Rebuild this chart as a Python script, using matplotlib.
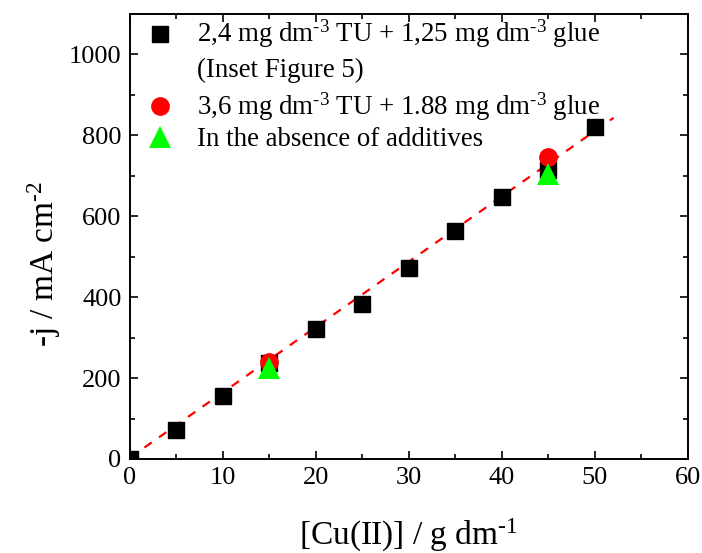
import matplotlib
matplotlib.use("Agg")
import matplotlib.pyplot as plt
from matplotlib.ticker import MultipleLocator

plt.rcParams["font.family"] = ["Liberation Serif", "DejaVu Serif"]
plt.rcParams["mathtext.fontset"] = "custom"
plt.rcParams["mathtext.rm"] = "Liberation Serif"
plt.rcParams["mathtext.default"] = "regular"

# Current density vs copper concentration
cu_sq = [0, 5, 10, 15, 20, 25, 30, 35, 40, 45, 50]
j_sq = [0, 72, 156, 237, 320, 384, 473, 563, 647, 714, 820]

cu_circ = [15, 45]
j_circ = [240, 745]

cu_tri = [15, 45]
j_tri = [225, 705]

# linear fit line endpoints
fit_x = [0, 52]
fit_y = [3, 843]

H = "\u2010"  # plain hyphen for the exponents
lbl_sq = f"2,4 mg dm$^{{{H}3}}$ TU + 1,25 mg dm$^{{{H}3}}$ glue"
lbl_sq2 = "(Inset Figure 5)"
lbl_circ = f"3,6 mg dm$^{{{H}3}}$ TU + 1.88 mg dm$^{{{H}3}}$ glue"
lbl_tri = "In the absence of additives"

sq_style = dict(marker="s", color="black", markersize=12, linestyle="none")
circ_style = dict(marker="o", color="red", markersize=13.5, markeredgewidth=0, linestyle="none")
tri_style = dict(marker="^", color="#00ff00", markersize=16, markeredgewidth=0, linestyle="none")

fig = plt.figure(figsize=(7.02, 5.53), dpi=100)
ax = fig.add_axes([0.185, 0.170, 0.795, 0.805])

ax.plot(fit_x, fit_y, color="red", linestyle=(0, (4, 4)), linewidth=1.6, zorder=2)
ax.plot(cu_sq, j_sq, zorder=3, **sq_style)
ax.plot(cu_circ, j_circ, zorder=3, **circ_style)
ax.plot(cu_tri, j_tri, zorder=4, **tri_style)

ax.set_xlim(0, 60)
ax.set_ylim(0, 1100)
ax.xaxis.set_major_locator(MultipleLocator(10))
ax.xaxis.set_minor_locator(MultipleLocator(5))
ax.yaxis.set_major_locator(MultipleLocator(200))
ax.yaxis.set_minor_locator(MultipleLocator(100))
ax.tick_params(which="both", direction="in", top=True, right=True, width=1.2)
ax.tick_params(which="major", length=6, labelsize=19, pad=6)
ax.tick_params(which="minor", length=3.5)
for s in ax.spines.values():
    s.set_linewidth(1.4)

ax.set_xlabel(f"[Cu(II)] / g dm$^{{{H}1}}$", fontsize=24, labelpad=20)
ax.set_ylabel(f"-j / mA cm$^{{{H}2}}$", fontsize=24, labelpad=4)
ax.yaxis.label.set_y(0.439)

# legend drawn by hand so the second line of the first entry sits under it
mx, tx = 0.054, 0.120
ax.plot([mx], [0.954], transform=ax.transAxes, clip_on=False, **sq_style)
ax.plot([mx], [0.792], transform=ax.transAxes, clip_on=False, **circ_style)
ax.plot([mx], [0.7236], transform=ax.transAxes, clip_on=False, **tri_style)
for y, s in [(0.9378, lbl_sq), (0.859, lbl_sq2), (0.773, lbl_circ), (0.702, lbl_tri)]:
    ax.text(tx, y, s, transform=ax.transAxes, fontsize=19.4, va="baseline", ha="left")

fig.savefig("out.png", dpi=100)
